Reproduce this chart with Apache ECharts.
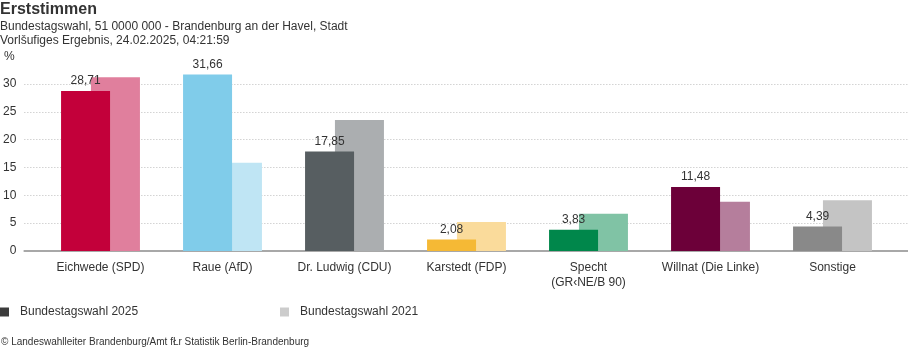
<!DOCTYPE html>
<html>
<head>
<meta charset="utf-8">
<script src="https://cdn.jsdelivr.net/npm/echarts@6/dist/echarts.min.js"></script>
<style>
  html, body { margin: 0; padding: 0; background: #fff; }
  #chart { width: 908px; height: 352px; }
</style>
</head>
<body>
<div id="chart"></div>
<script>
const categories = ['Eichwede (SPD)', 'Raue (AfD)', 'Dr. Ludwig (CDU)', 'Karstedt (FDP)', 'Specht\n(GR‹NE/B 90)', 'Willnat (Die Linke)', 'Sonstige']
const values2025 = [28.71, 31.66, 17.85, 2.08, 3.83, 11.48, 4.39]
const values2021 = [31.2, 15.85, 23.5, 5.2, 6.7, 8.85, 9.1]
const colors2025 = ['#c3003a', '#80ccea', '#575e61', '#f5b935', '#00874b', '#6c0039', '#898989']
const colors2021 = ['#e07f9d', '#bfe5f4', '#abaeb0', '#fadb9b', '#80c3a5', '#b57e9c', '#c4c4c4']
const yTicks = [0, 5, 10, 15, 20, 25, 30]

const font = 'Liberation Sans, Arial, sans-serif'
const fmt = v => v.toFixed(2).replace('.', ',')

const myChart = echarts.init(document.getElementById('chart'))
myChart.setOption({
  animation: false,
  textStyle: { fontFamily: font, color: '#333' },
  title: {
    text: 'Erststimmen',
    subtext: 'Bundestagswahl, 51 0000 000 - Brandenburg an der Havel, Stadt\nVorlšufiges Ergebnis, 24.02.2025, 04:21:59',
    left: 0,
    top: 2,
    padding: 0,
    itemGap: 2,
    textStyle: { fontSize: 16, fontWeight: 'bold', color: '#333', fontFamily: font },
    subtextStyle: { fontSize: 12, color: '#333', lineHeight: 14, fontFamily: font }
  },
  legend: [
    {
      data: ['Bundestagswahl 2025'],
      left: 0, top: 306, padding: 0,
      icon: 'rect', itemWidth: 9, itemHeight: 9,
      textStyle: { fontSize: 12, color: '#333', padding: [0, 0, 0, 6] }
    },
    {
      data: ['Bundestagswahl 2021'],
      left: 280, top: 306, padding: 0,
      icon: 'rect', itemWidth: 9, itemHeight: 9,
      textStyle: { fontSize: 12, color: '#333', padding: [0, 0, 0, 6] }
    }
  ],
  grid: [
    { left: 39.5, right: 14.5, top: 56, bottom: 101 },
    { left: 22, right: 0, top: 84, bottom: 101 }
  ],
  xAxis: [
    {
      gridIndex: 0,
      type: 'category',
      data: categories,
      axisLine: { show: false },
      axisTick: { show: false },
      axisLabel: { fontSize: 12, color: '#333', margin: 9, lineHeight: 15, interval: 0 }
    },
    {
      gridIndex: 1,
      type: 'value',
      min: 0, max: 1,
      axisLine: { show: true, lineStyle: { color: '#a8a8a8', width: 2 } },
      axisTick: { show: false },
      axisLabel: { show: false },
      splitLine: { show: false }
    }
  ],
  yAxis: [
    { gridIndex: 0, type: 'value', min: 0, max: 35, show: false, splitLine: { show: false } },
    {
      gridIndex: 1,
      type: 'value',
      min: yTicks[0], max: yTicks[yTicks.length - 1], interval: 5,
      axisLine: { show: false },
      axisTick: { show: false },
      axisLabel: { fontSize: 12, color: '#333', margin: 8 },
      splitLine: { show: true, lineStyle: { color: '#bdbdbd', type: [1, 2], width: 1 } }
    }
  ],
  graphic: [
    { type: 'text', left: 4, top: 51, style: { text: '%', fontSize: 12, fill: '#333', fontFamily: font } },
    { type: 'text', left: 1, top: 337, style: { text: '© Landeswahlleiter Brandenburg/Amt fŁr Statistik Berlin-Brandenburg', fontSize: 10, fill: '#333', fontFamily: font } }
  ],
  series: [
    {
      name: 'Bundestagswahl 2025',
      type: 'bar',
      xAxisIndex: 0, yAxisIndex: 0,
      z: 3,
      barWidth: 49,
      barGap: '-39%',
      itemStyle: { color: '#3c3c3c' },
      label: { show: true, position: 'top', distance: 4, fontSize: 12, color: '#333', formatter: p => fmt(p.value) },
      data: values2025.map((v, i) => ({ value: v, itemStyle: { color: colors2025[i] } }))
    },
    {
      name: 'Bundestagswahl 2021',
      type: 'bar',
      xAxisIndex: 0, yAxisIndex: 0,
      z: 2,
      barWidth: 49,
      itemStyle: { color: '#cccccc' },
      data: values2021.map((v, i) => ({ value: v, itemStyle: { color: colors2021[i] } }))
    }
  ]
})
</script>
</body>
</html>
